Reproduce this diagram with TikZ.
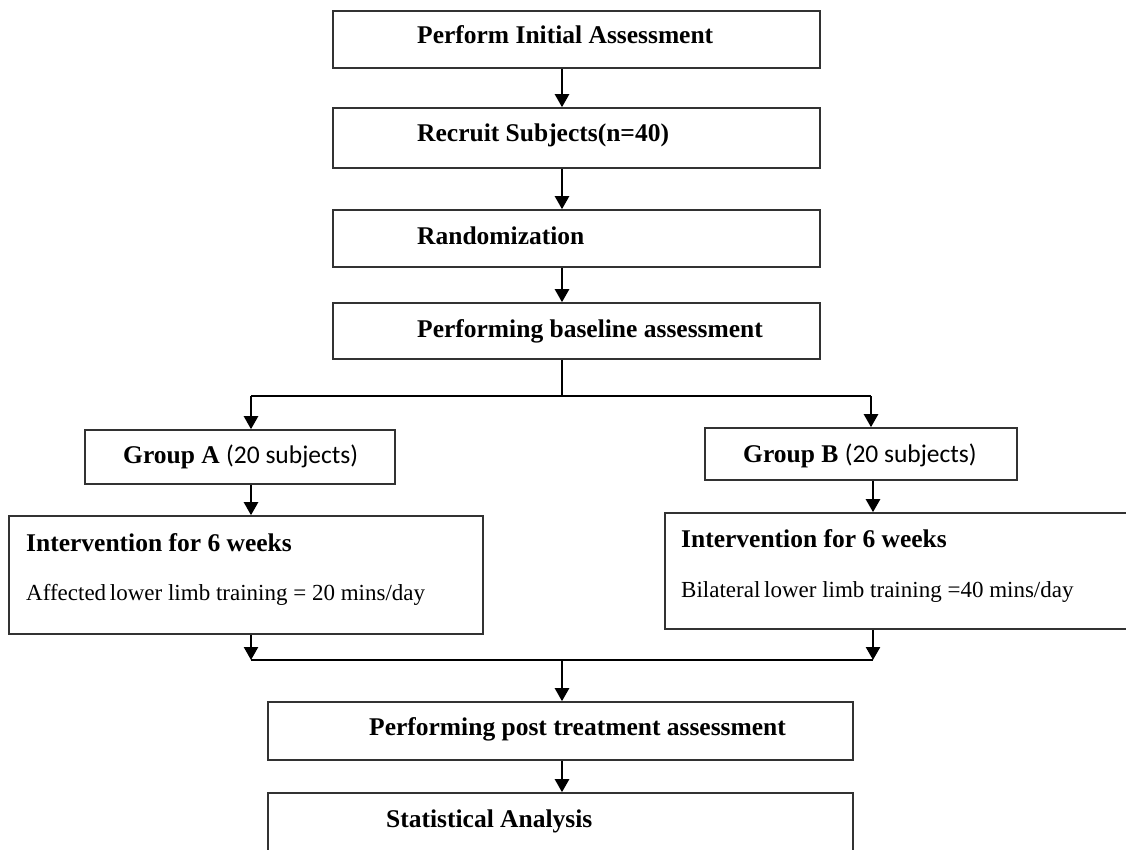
\documentclass[tikz,border=0pt]{standalone}
\usepackage{fontspec}
\setmainfont{Liberation Serif}
\newfontfamily\calibrifont{Carlito}
\usetikzlibrary{arrows.meta,positioning,calc}
\definecolor{boxgray}{RGB}{50,50,50}
\tikzset{
  flowbox/.style={draw=boxgray, line width=1.6pt, inner sep=0pt},
  boxlabel/.style={inner sep=0pt, anchor=base west, font=\fontsize{25.5}{28}\selectfont\bfseries},
  bodylabel/.style={inner sep=0pt, anchor=base west, font=\fontsize{23}{26}\selectfont},
  arr/.style={line width=2.4pt, -{Triangle[width=14pt,length=13pt]}},
  bus/.style={line width=2.4pt}
}

\begin{document}
\begin{tikzpicture}[x=1pt,y=-1pt]
    \useasboundingbox (0,0) rectangle (1126,850);

    % main column
    \node[flowbox, minimum width=487pt, minimum height=57pt] (init) at (576.5,39.5) {};
    \node[boxlabel] (initText) at (417,44) {Perform Initial Assessment};
    \node[flowbox, minimum width=487pt, minimum height=60pt] (recruit) at (576.5,138) {};
    \node[boxlabel] (recruitText) at (417,142) {Recruit Subjects(n=40)};
    \node[flowbox, minimum width=487pt, minimum height=57pt] (random) at (576.5,238.5) {};
    \node[boxlabel] (randomText) at (417,244) {Randomization};
    \node[flowbox, minimum width=487pt, minimum height=56pt] (baseline) at (576.5,331) {};
    \node[boxlabel] (baselineText) at (417,337) {Performing baseline assessment};

    % the two groups
    \node[flowbox, minimum width=310pt, minimum height=54pt] (groupA) at (240,457) {};
    \node[boxlabel] (groupAText) at (123,463) {Group A {\calibrifont\mdseries (20 subjects)}};
    \node[flowbox, minimum width=312pt, minimum height=52pt] (groupB) at (861,454) {};
    \node[boxlabel] (groupBText) at (743,462) {Group B {\calibrifont\mdseries (20 subjects)}};

    \node[flowbox, minimum width=474pt, minimum height=118pt] (interA) at (246,575) {};
    \node[boxlabel] (interATitle) at (26,551) {Intervention for 6 weeks};
    \node[bodylabel] (interABody) at (26,600) {Affected\hspace{-2pt} lower limb training = 20 mins/day};
    \node[flowbox, minimum width=470pt, minimum height=116pt] (interB) at (900,571) {};
    \node[boxlabel] (interBTitle) at (681,547) {Intervention for 6 weeks};
    \node[bodylabel] (interBBody) at (681,597) {Bilateral\hspace{-2pt} lower limb training =40 mins/day};

    % end of the study
    \node[flowbox, minimum width=585pt, minimum height=58pt] (post) at (560.5,731) {};
    \node[boxlabel] (postText) at (369,735) {Performing post treatment assessment};
    \node[flowbox, minimum width=585pt, minimum height=70pt] (stats) at (560.5,828) {};
    \node[boxlabel] (statsText) at (386,827) {Statistical Analysis};

    % connectors
    \coordinate (spine) at (562,0);
    \coordinate (splitL) at (251,396);
    \coordinate (splitR) at (871,396);
    \coordinate (joinL) at (251,660);
    \coordinate (joinR) at (873,660);

    \draw[arr] (init.south -| spine) -- (recruit.north -| spine);
    \draw[arr] (recruit.south -| spine) -- (random.north -| spine);
    \draw[arr] (random.south -| spine) -- (baseline.north -| spine);
    \draw[bus] (baseline.south -| spine) -- (splitL -| spine);
    \draw[bus] (splitL) -- (splitR);
    \draw[arr] (splitL) -- (groupA.north -| splitL);
    \draw[arr] (splitR) -- (groupB.north -| splitR);
    \draw[arr] (groupA.south -| splitL) -- (interA.north -| splitL);
    \draw[arr] (groupB.south -| joinR) -- (interB.north -| joinR);
    \draw[arr] (interA.south -| joinL) -- (joinL);
    \draw[arr] (interB.south -| joinR) -- (joinR);
    \draw[bus] (joinL) -- (joinR);
    \draw[arr] (joinL -| spine) -- (post.north -| spine);
    \draw[arr] (post.south -| spine) -- (stats.north -| spine);
\end{tikzpicture}
\end{document}
